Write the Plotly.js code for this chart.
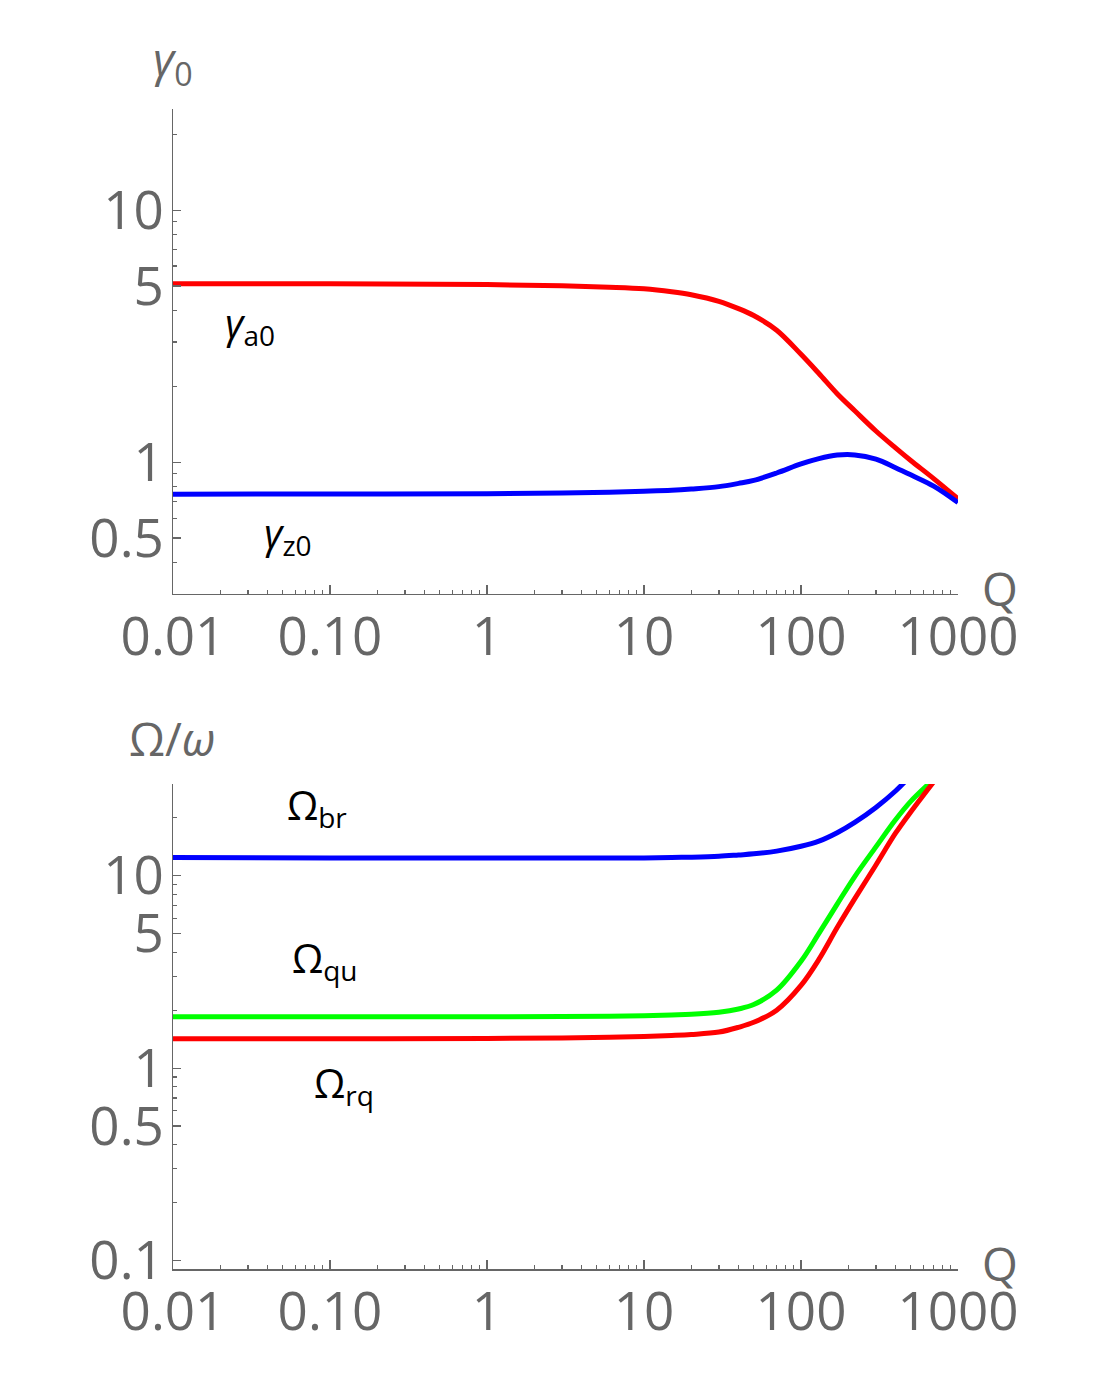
<!DOCTYPE html>
<html>
<head>
    <meta charset="UTF-8">
    <title>gamma0 and Omega/omega vs Q</title>
    <script src="https://cdn.plot.ly/plotly-3.0.1.min.js"></script>
    <style>
        body { margin: 0; padding: 0; background-color: #ffffff; }
        #chart { width: 1106px; height: 1375px; }
    </style>
</head>
<body>
    <div id="chart"></div>

    <script>
        // Q values the curves were read at
        var qGrid = [0.01, 0.1, 1, 3, 6, 10, 15, 20, 30, 40, 50, 70, 100, 130, 170, 220, 300, 400, 500, 700, 1000];

        // top panel: damping rates
        var gammaA0 = [5.10, 5.10, 5.07, 5.01, 4.95, 4.88, 4.75, 4.62, 4.35, 4.07, 3.82, 3.34, 2.68, 2.25, 1.87, 1.60, 1.33, 1.14, 1.016, 0.861, 0.716];
        var gammaZ0 = [0.747, 0.748, 0.750, 0.755, 0.760, 0.767, 0.774, 0.783, 0.800, 0.824, 0.847, 0.906, 0.984, 1.033, 1.067, 1.069, 1.028, 0.951, 0.891, 0.804, 0.692];

        // bottom panel: frequencies (they run off the top of the frame)
        var omegaBr = [12.4, 12.36, 12.33, 12.33, 12.33, 12.36, 12.42, 12.47, 12.6, 12.8, 12.97, 13.4, 14.2, 15.1, 16.7, 18.9, 22.6, 27.5, 33.1];
        var omegaQu = [1.85, 1.85, 1.85, 1.854, 1.858, 1.87, 1.89, 1.905, 1.954, 2.03, 2.14, 2.54, 3.59, 5.01, 7.11, 9.89, 14.1, 19.5, 24.3, 31.6];
        var omegaRq = [1.42, 1.42, 1.426, 1.435, 1.445, 1.462, 1.479, 1.496, 1.54, 1.63, 1.73, 2.00, 2.69, 3.67, 5.37, 7.59, 11.35, 16.6, 21.4, 30.7];

        // ticks
        var xTickVals = [0.01, 0.1, 1, 10, 100, 1000];
        var xTickText = ['0.01', '0.10', '1', '10', '100', '1000'];
        var xMinorVals = [];
        [0.01, 0.1, 1, 10, 100].forEach(function (d) {
            for (var k = 2; k <= 9; k++) xMinorVals.push(k * d);
        });
        var yTopTickVals = [0.5, 1, 5, 10];
        var yTopMinor = [0.4, 0.6, 0.7, 0.8, 0.9, 2, 3, 4, 6, 7, 8, 9, 20];
        var yBotTickVals = [0.1, 0.5, 1, 5, 10];
        var yBotMinor = [0.2, 0.3, 0.4, 0.6, 0.7, 0.8, 0.9, 2, 3, 4, 6, 7, 8, 9, 20];

        var grey = '#666666';
        var tickFont = { family: 'Open Sans, sans-serif', size: 53, color: grey };

        function lineTrace(y, color, xa, ya) {
            return {
                x: qGrid.slice(0, y.length), y: y, xaxis: xa, yaxis: ya,
                type: 'scatter', mode: 'lines',
                line: { color: color, width: 5, shape: 'spline', smoothing: 1 },
                hoverinfo: 'skip', showlegend: false
            };
        }

        var traces = [
            lineTrace(gammaA0, '#ff0000', 'x', 'y'),
            lineTrace(gammaZ0, '#0000ff', 'x', 'y'),
            lineTrace(omegaBr, '#0000ff', 'x2', 'y2'),
            lineTrace(omegaQu, '#00ff00', 'x2', 'y2'),
            lineTrace(omegaRq, '#ff0000', 'x2', 'y2')
        ];

        function xAxis(anchor) {
            return {
                type: 'log', range: [-2, 3], anchor: anchor,
                tickmode: 'array', tickvals: xTickVals, ticktext: xTickText,
                ticks: 'inside', ticklen: 9, tickwidth: 1.3, tickcolor: grey,
                minor: { tickmode: 'array', tickvals: xMinorVals, ticks: 'inside', ticklen: 4, tickwidth: 1.2, tickcolor: grey, showgrid: false },
                showline: true, linecolor: grey, linewidth: 1.5,
                showgrid: false, zeroline: false, automargin: false,
                ticklabelstandoff: -4,
                tickfont: tickFont
            };
        }

        function yAxis(anchor, range, domain, vals, minor) {
            return {
                type: 'log', range: range, domain: domain, anchor: anchor,
                tickmode: 'array', tickvals: vals, ticktext: vals.map(String),
                ticks: 'inside', ticklen: 8, tickwidth: 1.3, tickcolor: grey,
                minor: { tickmode: 'array', tickvals: minor, ticks: 'inside', ticklen: 4, tickwidth: 1.2, tickcolor: grey, showgrid: false },
                showline: true, linecolor: grey, linewidth: 1.5,
                showgrid: false, zeroline: false, automargin: false,
                ticklabelstandoff: -3,
                tickfont: tickFont
            };
        }

        var labelFont = { family: 'Open Sans, sans-serif', size: 40, color: '#000000' };
        var axisLabelFont = { family: 'Open Sans, sans-serif', size: 46, color: grey };

        function note(text, x, y, font) {
            return { text: text, x: x, y: y, xref: 'paper', yref: 'paper', xanchor: 'center', yanchor: 'middle', showarrow: false, font: font };
        }

        var layout = {
            width: 1106, height: 1375,
            margin: { l: 173, r: 148, t: 109, b: 106 },
            paper_bgcolor: '#ffffff', plot_bgcolor: '#ffffff',
            xaxis: xAxis('y'),
            yaxis: yAxis('x', [Math.log10(0.3), Math.log10(25.2)], [0.5819, 1], yTopTickVals, yTopMinor),
            xaxis2: xAxis('y2'),
            yaxis2: yAxis('x2', [-1.043, Math.log10(29.9)], [0, 0.4181], yBotTickVals, yBotMinor),
            annotations: [
                note('<i>γ</i><sub>0</sub>', 0.0, 1.041, axisLabelFont),
                note('Q', 1.0535, 0.587, axisLabelFont),
                note('Ω/<i>ω</i>', -0.001, 0.458, axisLabelFont),
                note('Q', 1.0535, 0.0055, axisLabelFont),
                note('<i>γ</i><sub>a0</sub>', 0.098, 0.8145, labelFont),
                note('<i>γ</i><sub>z0</sub>', 0.1465, 0.6334, labelFont),
                note('Ω<sub>br</sub>', 0.1834, 0.399, labelFont),
                note('Ω<sub>qu</sub>', 0.1936, 0.267, labelFont),
                note('Ω<sub>rq</sub>', 0.2178, 0.1593, labelFont)
            ]
        };

        Plotly.newPlot('chart', traces, layout, { staticPlot: true, displayModeBar: false });
    </script>
</body>
</html>
